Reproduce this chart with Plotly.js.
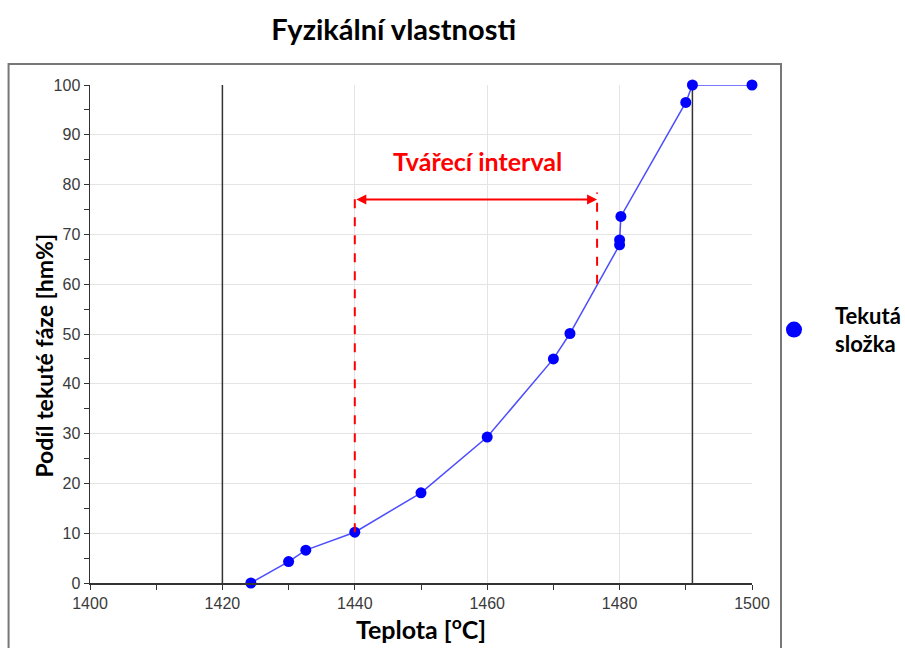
<!DOCTYPE html>
<html><head><meta charset="utf-8">
<script src="https://cdn.plot.ly/plotly-3.0.1.min.js"></script>
<style>body{margin:0;background:#fff}</style>
</head><body>
<div id="chart" style="width:905px;height:648px"></div>
<script>
const temperature = [1424.3, 1430, 1432.6, 1440, 1450, 1460, 1470, 1472.5, 1480, 1480, 1480.2, 1490, 1491, 1500];
const liquidFraction = [0, 4.3, 6.6, 10.2, 18.1, 29.3, 45.0, 50.1, 67.9, 68.9, 73.6, 96.5, 100, 100];
const seriesName = 'Tekutá<br>složka';
const referenceLines = [1420, 1491];
const intervalStart = 1440, intervalEnd = 1476.6;
const intervalStartBottom = 10.2, intervalEndBottom = 60.1, dashTop = 78.4, arrowLevel = 77;
const intervalLabel = 'Tvářecí interval';
const labelPos = [1458.5, 84.8];
const xTitle = 'Teplota [<sup>o</sup>C]';
const yTitle = 'Podíl tekuté fáze [hm%]';
const chartTitle = 'Fyzikální vlastnosti';

const boldFont = 'Lato, "Open Sans", sans-serif';
const tickFont = {family: 'Arial, "Liberation Sans", sans-serif', size: 16, color: '#3a3a3a'};

const traces = [
  {x: temperature, y: liquidFraction, mode: 'lines', line: {color: '#4d4dff', width: 1.5},
   showlegend: false, hoverinfo: 'skip'},
  {x: temperature, y: liquidFraction, mode: 'markers', name: seriesName, showlegend: false,
   marker: {color: '#0000ff', size: 11}, cliponaxis: false},
  {x: [null], y: [null], mode: 'markers', name: seriesName, showlegend: true,
   marker: {color: '#0000ff', size: 16}}
];

const shapes = referenceLines.map(v => ({type: 'line', xref: 'x', yref: 'y', x0: v, x1: v, y0: 0, y1: 100,
  line: {color: '#333', width: 1.5}, layer: 'between'}));
shapes.push({type: 'line', xref: 'x', yref: 'y', x0: intervalStart, x1: intervalStart, y0: intervalStartBottom, y1: dashTop,
  line: {color: '#ff0000', width: 2, dash: 'dash'}});
shapes.push({type: 'line', xref: 'x', yref: 'y', x0: intervalEnd, x1: intervalEnd, y0: intervalEndBottom, y1: dashTop,
  line: {color: '#ff0000', width: 2, dash: 'dash'}});
shapes.push({type: 'rect', xref: 'paper', yref: 'paper', x0: -0.123, x1: 1.0438, y0: -0.3, y1: 1.042,
  line: {color: '#777', width: 2}, fillcolor: 'rgba(0,0,0,0)', layer: 'below'});

const layout = {
  width: 905, height: 648,
  margin: {l: 90, r: 153, t: 85, b: 65, autoexpand: false},
  paper_bgcolor: '#fff', plot_bgcolor: '#fff',
  title: {text: chartTitle, x: 0.435, xanchor: 'center', y: 0.954, yanchor: 'middle',
    font: {family: boldFont, size: 29, color: '#000', weight: 'bold'}},
  xaxis: {range: [1400, 1500], dtick: 20, tick0: 1400, showgrid: true, gridcolor: '#e4e4e4',
    showline: true, linecolor: '#333', linewidth: 1.5, ticks: 'outside', ticklen: 5, tickcolor: '#333',
    minor: {dtick: 10, ticks: 'outside', ticklen: 5, tickcolor: '#333', showgrid: false},
    zeroline: false, tickfont: tickFont, automargin: false,
    title: {text: xTitle, standoff: 10, font: {family: boldFont, size: 25, color: '#000', weight: 'bold'}}},
  yaxis: {range: [0, 100], dtick: 10, showgrid: true, gridcolor: '#e4e4e4',
    showline: true, linecolor: '#333', linewidth: 1.5, ticks: 'outside', ticklen: 5, tickcolor: '#333',
    minor: {dtick: 5, ticks: 'outside', ticklen: 5, tickcolor: '#333', showgrid: false},
    zeroline: false, tickfont: tickFont, automargin: false},
  legend: {x: 1.0015, xanchor: 'left', y: 0.508, yanchor: 'middle', bgcolor: 'rgba(0,0,0,0)', itemwidth: 72,
    font: {family: boldFont, size: 22, color: '#000', weight: 'bold'}},
  shapes: shapes,
  annotations: [
    {x: intervalEnd, y: arrowLevel, ax: intervalStart, ay: arrowLevel, xref: 'x', yref: 'y', axref: 'x', ayref: 'y',
     text: '', showarrow: true, arrowside: 'end+start', arrowhead: 2, arrowsize: 1, arrowwidth: 2, arrowcolor: '#ff0000'},
    {x: labelPos[0], y: labelPos[1], xref: 'x', yref: 'y', text: intervalLabel, showarrow: false,
     font: {family: boldFont, size: 25, color: '#ff0000', weight: 'bold'}},
    {x: -0.070, y: 0.456, xref: 'paper', yref: 'paper', text: yTitle, textangle: -90, showarrow: false,
     xanchor: 'center', yanchor: 'middle', font: {family: boldFont, size: 23, color: '#000', weight: 'bold'}}
  ]
};

Plotly.newPlot('chart', traces, layout, {displayModeBar: false, staticPlot: true});
</script>
</body></html>
